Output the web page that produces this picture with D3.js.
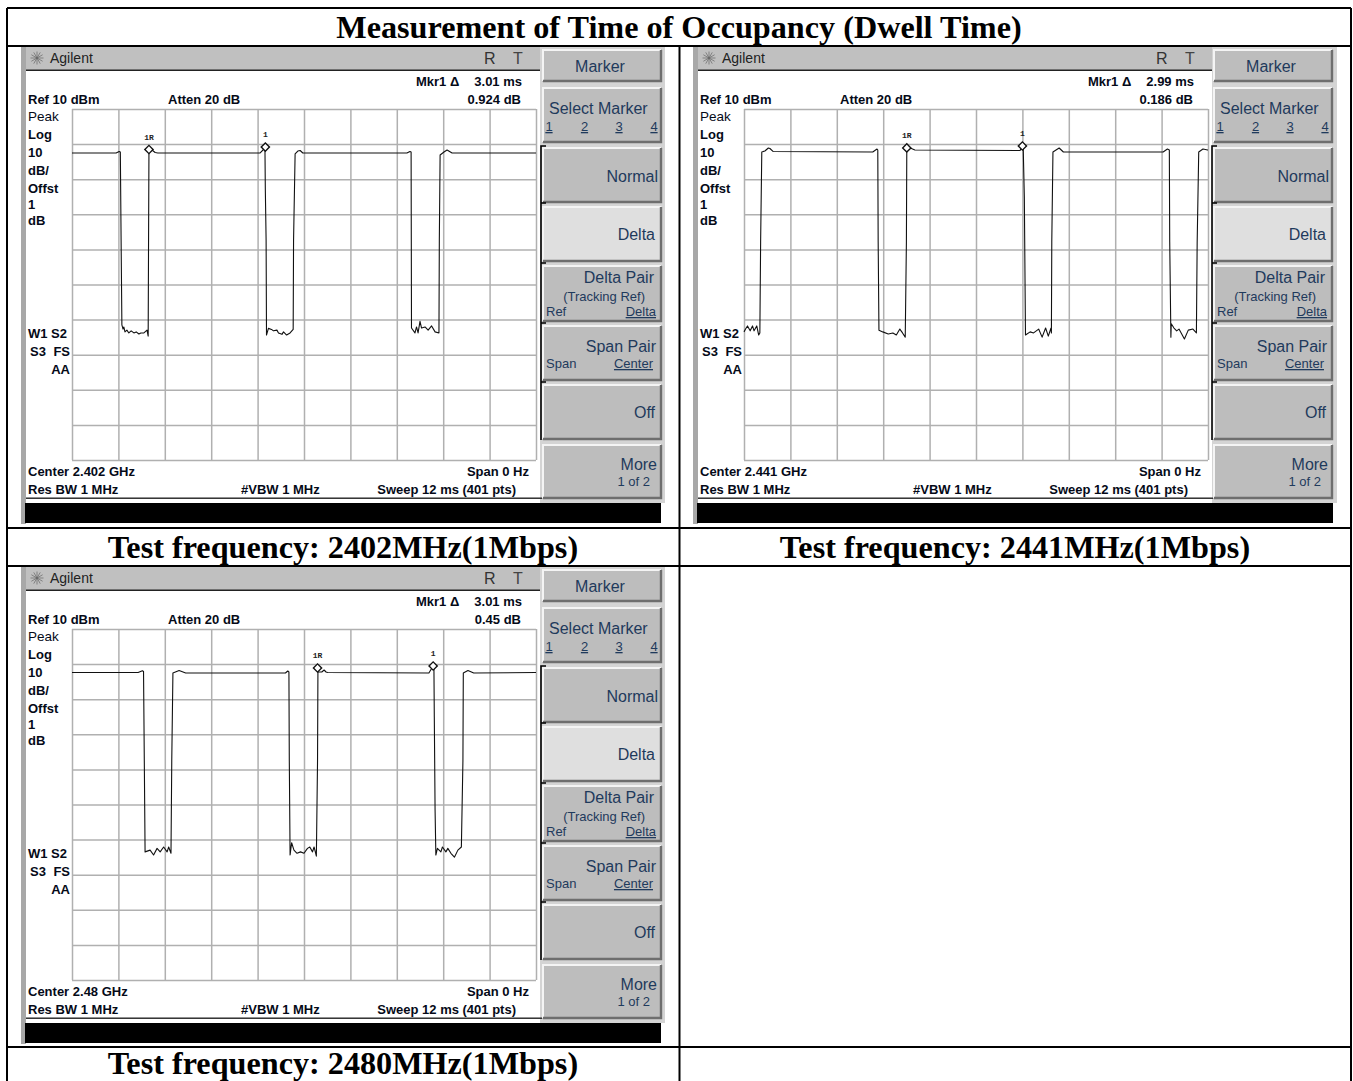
<!DOCTYPE html>
<html><head><meta charset="utf-8">
<script src="https://cdn.jsdelivr.net/npm/d3@7/dist/d3.min.js"></script>
<style>html,body{margin:0;padding:0;background:#fff;overflow:hidden}svg{display:block}</style>
</head><body><svg id="c" width="1353" height="1081"></svg>
<script>
const pageTitle = "Measurement of Time of Occupancy (Dwell Time)";
const captions = ["Test frequency: 2402MHz(1Mbps)","Test frequency: 2441MHz(1Mbps)","Test frequency: 2480MHz(1Mbps)"];
const centers = ["Center 2.402 GHz","Center 2.441 GHz","Center 2.48 GHz"];
const deltaTimes = ["3.01 ms","2.99 ms","3.01 ms"];
const deltaLevels = ["0.924 dB","0.186 dB","0.45 dB"];

// time (ms) and level (dBm)
const trace1Ms = [0,1.14,1.22,1.25,1.27,1.29,1.32,1.34,1.37,1.42,1.47,1.53,1.60,1.66,1.73,1.78,1.86,1.94,1.97,1.98,1.99,2.07,2.15,2.22,4.86,4.99,5.00,5.02,5.03,5.08,5.16,5.21,5.30,5.34,5.43,5.47,5.55,5.64,5.72,5.73,5.77,5.84,5.90,5.97,8.66,8.74,8.77,8.775,8.78,8.87,8.91,8.95,9.00,9.04,9.13,9.21,9.30,9.39,9.49,9.50,9.52,9.62,9.70,9.83,12];
const trace1Db = [-2.54,-2.54,-2.1,-2.25,-27.3,-51.5,-52.7,-52.1,-53.5,-53,-53.8,-53.2,-53.8,-53.5,-54.1,-53.8,-53.8,-53,-54.7,-27.3,-2.25,-1.68,-2.4,-2.54,-2.54,-1.11,-13,-27.3,-54.4,-52.5,-52.8,-53.2,-53,-53.8,-54.2,-53.5,-54.4,-53.8,-52.8,-27.3,-2.8,-1.97,-1.83,-2.54,-2.54,-2.1,-2.25,-27.3,-52.4,-53.8,-52.1,-53.8,-50.5,-52.4,-52.1,-53,-51.8,-53.5,-53.8,-27.3,-3.1,-2.25,-1.68,-2.54,-2.54];
const trace2Ms = [0,0.04,0.09,0.16,0.22,0.26,0.33,0.38,0.41,0.43,0.46,0.54,0.63,0.67,0.75,3.33,3.44,3.46,3.47,3.49,3.59,3.73,3.85,3.94,4.03,4.10,4.17,4.20,4.21,4.30,4.42,7.14,7.20,7.22,7.25,7.27,7.28,7.40,7.49,7.62,7.71,7.80,7.87,7.94,7.95,7.96,7.99,8.15,8.26,10.84,10.95,11.00,11.01,11.04,11.05,11.12,11.19,11.25,11.39,11.49,11.61,11.70,11.72,11.76,11.87,11.99,12];
const trace2Db = [-53.5,-52.7,-51.8,-53.2,-51.8,-53.2,-51.8,-54.4,-53.8,-27.9,-2.25,-1.97,-1.11,-1.25,-2.1,-2.25,-1.4,-1.68,-27.9,-53,-53.5,-54.1,-53.8,-54.4,-52.7,-53.8,-55,-27.9,-1.68,-1.11,-1.68,-1.82,-0.54,-0.54,-15.1,-41.6,-54.4,-53.5,-53.8,-52.7,-55,-52.4,-54.7,-52.4,-53.8,-27.9,-2.25,-1.11,-2.25,-2.25,-1.4,-1.68,-27.9,-55,-51.2,-52.4,-53.2,-52.7,-55.5,-53,-52.7,-53.8,-27.9,-2.25,-1.4,-1.68,-1.68];
const trace3Ms = [0,1.71,1.82,1.85,1.87,1.89,2.02,2.11,2.20,2.28,2.37,2.46,2.50,2.56,2.58,2.61,2.77,2.94,5.52,5.58,5.61,5.62,5.64,5.68,5.74,5.82,5.91,6.00,6.09,6.15,6.22,6.26,6.32,6.35,6.36,6.46,6.52,6.57,6.61,9.23,9.34,9.36,9.37,9.39,9.41,9.45,9.54,9.58,9.67,9.72,9.80,9.89,9.98,10.07,10.11,10.12,10.24,10.39,12];
const trace3Db = [-2.4,-2.4,-1.88,-2.1,-27.6,-53.5,-53,-54.4,-52.5,-53.5,-52.1,-53.5,-52.1,-53.9,-27.6,-2.54,-1.82,-2.54,-2.54,-1.97,-2.25,-27.6,-54.4,-50.9,-53,-53.9,-53.5,-53.9,-52.5,-52.1,-53.5,-52.1,-54.7,-27.6,-2.25,-2.25,-1.68,-2.25,-2.4,-2.54,-0.54,-0.54,-15.1,-41.6,-54.4,-52.5,-53.5,-52.1,-53.5,-52.5,-53.9,-55,-53,-52.1,-27.6,-2.54,-1.82,-2.54,-2.4];
const traceMs = [trace1Ms,trace2Ms,trace3Ms];
const traceDb = [trace1Db,trace2Db,trace3Db];
const markerRefMs = [1.99,4.21,6.35], markerRefDb = [-1.54,-1.1,-1.11];
const markerMs = [5.0,7.2,9.34], markerDb = [-0.83,-0.54,-0.54];

const xTicks = [0,1.2,2.4,3.6,4.8,6,7.2,8.4,9.6,10.8,12];
const yTicks = [10,0,-10,-20,-30,-40,-50,-60,-70,-80,-90];

const svg = d3.select("#c");
const SANS = "'Liberation Sans',Arial,sans-serif", SERIF = "'Liberation Serif','Times New Roman',serif";
const x = d3.scaleLinear().domain([0,12]).range([72,536]);
const y = d3.scaleLinear().domain([10,-90]).range([109,460]);
const KEY = "#1f3a5c", INK = "#050a18";

function T(g,t,px,py,o={}){
  return g.append("text").attr("x",px).attr("y",py).text(t)
    .attr("font-family",o.family||SANS).attr("font-size",o.size||13)
    .attr("font-weight",o.weight||"normal").attr("fill",o.fill||INK)
    .attr("text-anchor",o.anchor||"start").attr("text-decoration",o.deco||null);
}
function key(g,y0,y1,fill){
  g.append("rect").attr("x",542).attr("y",y0).attr("width",120).attr("height",y1-y0).attr("fill",fill||"#bdbdbd");
  g.append("path").attr("fill","none").attr("stroke","#f4f4f4").attr("stroke-width",2)
    .attr("d",`M543,${y1-1}V${y0+1}H661`);
  g.append("path").attr("fill","none").attr("stroke","#6e6e6e").attr("stroke-width",2.4)
    .attr("d",`M543,${y1-1}H661V${y0+1}`);
}
function panel(i,dx,dy){
  const g = svg.append("g").attr("transform",`translate(${dx},${dy})`);
  // frame
  g.append("rect").attr("x",21).attr("y",47).attr("width",521).attr("height",23).attr("fill","#c0c0c0");
  g.append("rect").attr("x",21).attr("y",47).attr("width",5).attr("height",477).attr("fill","#a8a8a8");
  g.append("rect").attr("x",26).attr("y",69.5).attr("width",514).attr("height",2).attr("fill","#222");
  g.append("rect").attr("x",540).attr("y",47).attr("width",125).attr("height",456).attr("fill","#d4d4d4");
  g.append("rect").attr("x",26).attr("y",71).attr("width",514).attr("height",427).attr("fill","#fff").attr("stroke","none");
  g.append("rect").attr("x",26).attr("y",497.5).attr("width",516).attr("height",1.4).attr("fill","#222");
  g.append("rect").attr("x",25).attr("y",503).attr("width",636).attr("height",20).attr("fill","#000");
  // header
  const star = g.append("g").attr("stroke","#666").attr("stroke-width",0.7);
  d3.range(0,180,30).forEach(a=>{
    const r=a*Math.PI/180;
    star.append("line").attr("x1",37-6.5*Math.cos(r)).attr("y1",58-6.5*Math.sin(r))
      .attr("x2",37+6.5*Math.cos(r)).attr("y2",58+6.5*Math.sin(r));
  });
  T(g,"Agilent",50,63,{size:14,fill:"#222"});
  T(g,"R",484,64,{size:16,fill:"#333"});
  T(g,"T",513,64,{size:16,fill:"#444"});
  // grid through axes
  const xa = d3.axisBottom(x).tickValues(xTicks).tickSize(-351).tickFormat("");
  const ya = d3.axisLeft(y).tickValues(yTicks).tickSize(-464).tickFormat("");
  [g.append("g").attr("transform","translate(0,460)").call(xa),
   g.append("g").attr("transform","translate(72,0)").call(ya)].forEach(a=>{
     a.select(".domain").remove();
     a.selectAll("line").attr("stroke","#b0b0b0").attr("stroke-width",1.5);
   });
  // trace
  const pts = traceMs[i].map((m,k)=>[m,traceDb[i][k]]);
  g.append("path").attr("fill","none").attr("stroke","#111").attr("stroke-width",1.1)
    .attr("stroke-linejoin","round")
    .attr("d",d3.line().x(d=>x(d[0])).y(d=>y(d[1]))(pts));
  // markers
  [[markerRefMs[i],markerRefDb[i],"1R"],[markerMs[i],markerDb[i],"1"]].forEach(m=>{
    g.append("path").attr("transform",`translate(${x(m[0])},${y(m[1])}) rotate(45)`)
      .attr("d",d3.symbol(d3.symbolSquare,34)()).attr("fill","#fff").attr("stroke","#111").attr("stroke-width",1.4);
    T(g,m[2],x(m[0]),y(m[1])-10,{family:"'Liberation Mono',monospace",size:8,weight:"bold",anchor:"middle",fill:"#222"});
  });
  // screen annotations
  const B={weight:"bold",size:13}, BE={weight:"bold",size:13,anchor:"end"};
  T(g,"Mkr1 \u0394",416,86,B);
  T(g,deltaTimes[i],522,86,BE);
  T(g,deltaLevels[i],521,104,BE);
  T(g,"Ref 10 dBm",28,104,B);
  T(g,"Atten 20 dB",168,104,B);
  T(g,"Peak",28,121,{size:13.5});
  [["Log",139],["10",157],["dB/",175],["Offst",193],["1",209],["dB",225]].forEach(a=>T(g,a[0],28,a[1],B));
  T(g,"W1  S2",28,338,B);
  T(g,"S3",30,356,B);
  T(g,"FS",70,356,BE);
  T(g,"AA",70,374,BE);
  T(g,centers[i],28,476,B);
  T(g,"Span 0 Hz",529,476,BE);
  T(g,"Res BW 1 MHz",28,494,B);
  T(g,"#VBW 1 MHz",241,494,B);
  T(g,"Sweep 12 ms (401 pts)",516,494,BE);
  // softkeys
  const s = svg.append("g").attr("transform",`translate(${dx?dx-1:0},${dy})`);
  key(s,49,82); key(s,87,143); key(s,147,203); key(s,206,262,"#dfdfdf"); key(s,265,322); key(s,325,381); key(s,384,440); key(s,444,499);
  s.append("path").attr("fill","none").attr("stroke","#000").attr("stroke-width",1.6)
    .attr("d","M546,146H541V440M541,203H546M541,263H546M541,323H546M541,382H546");
  const K={size:16,fill:KEY}, KE={size:16,fill:KEY,anchor:"end"}, S={size:13,fill:KEY}, SE={size:13,fill:KEY,anchor:"end"};
  T(s,"Marker",600,72,{size:16,fill:KEY,anchor:"middle"});
  T(s,"Select Marker",549,114,K);
  ["1","2","3","4"].forEach((d,k)=>T(s,d,[549,584.5,619,654][k],131,{size:13,fill:KEY,anchor:"middle",deco:"underline"}));
  T(s,"Normal",658,182,KE);
  T(s,"Delta",655,240,KE);
  T(s,"Delta Pair",654,283,KE);
  T(s,"(Tracking Ref)",645,301,SE);
  T(s,"Ref",546,316,S);
  T(s,"Delta",656,316,{size:13,fill:KEY,anchor:"end",deco:"underline"});
  T(s,"Span Pair",656,352,KE);
  T(s,"Span",546,368,S);
  T(s,"Center",653,368,{size:13,fill:KEY,anchor:"end",deco:"underline"});
  T(s,"Off",655,418,KE);
  T(s,"More",657,470,KE);
  T(s,"1 of 2",650,486,SE);
}
panel(0,0,0);
panel(1,672,0);
panel(2,0,520);

// table rules
const rule = svg.append("g").attr("stroke","#000").attr("stroke-width",2).attr("fill","none");
[[7,8,1351,8],[7,46,1351,46],[7,528,1351,528],[7,566,1351,566],[7,1047,1351,1047],
 [7,8,7,1081],[679.5,46,679.5,1081],[1351,8,1351,1081]].forEach(l=>
  rule.append("line").attr("x1",l[0]).attr("y1",l[1]).attr("x2",l[2]).attr("y2",l[3]));

const H={family:SERIF,weight:"bold",size:32.2,anchor:"middle",fill:"#000"};
T(svg,pageTitle,679,38,H);
T(svg,captions[0],343,558,H);
T(svg,captions[1],1015,558,H);
T(svg,captions[2],343,1074,H);
</script></body></html>
